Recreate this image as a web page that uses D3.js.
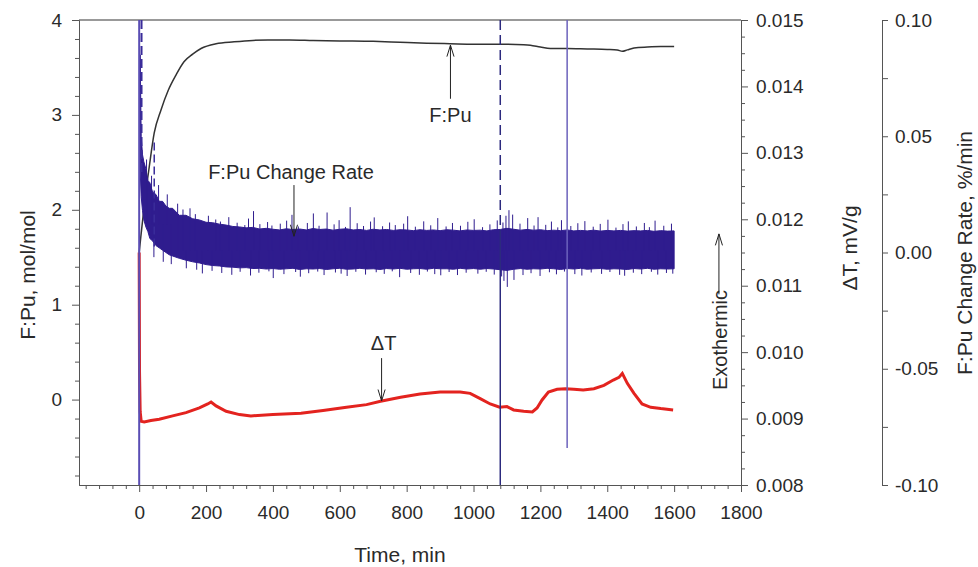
<!DOCTYPE html>
<html>
<head>
<meta charset="utf-8">
<script src="https://cdn.jsdelivr.net/npm/d3@7"></script>
<style>
  html, body { margin: 0; padding: 0; background: #fff; }
  svg { display: block; }
  text { font-family: "Liberation Sans", Arial, sans-serif; fill: #2a2a2a; }
  .axis path, .axis line { stroke: #555; }
</style>
</head>
<body>
<svg id="chart" width="978" height="567"></svg>
<script>
    "use strict";

    // F:Pu ratio, mol/mol (left axis)
    var fpuTime  = [0, 5, 10, 18, 30, 45, 65, 87, 110, 134, 160, 185, 230, 284, 340, 385, 450, 520, 600, 700, 780, 860, 930, 1000, 1080, 1150, 1170, 1200, 1230, 1280, 1340, 1400, 1430, 1445, 1460, 1480, 1520, 1560, 1600];
    var fpuValue = [1.55, 1.72, 1.88, 2.13, 2.45, 2.81, 3.05, 3.26, 3.42, 3.56, 3.64, 3.70, 3.75, 3.77, 3.785, 3.79, 3.79, 3.785, 3.78, 3.775, 3.765, 3.755, 3.75, 3.745, 3.745, 3.74, 3.735, 3.715, 3.70, 3.70, 3.695, 3.69, 3.685, 3.67, 3.685, 3.705, 3.715, 3.72, 3.72];

    // delta T, mV/g (first right axis)
    var dtTime  = [0, 1, 3, 6, 15, 35, 60, 100, 140, 180, 205, 215, 230, 260, 300, 334, 400, 484, 550, 620, 680, 722, 782, 840, 900, 960, 990, 1020, 1050, 1078, 1100, 1120, 1150, 1176, 1190, 1205, 1224, 1250, 1275, 1300, 1328, 1360, 1390, 1418, 1435, 1445, 1460, 1480, 1504, 1530, 1560, 1597];
    var dtValue = [0.0115, 0.0097, 0.0091, 0.00896, 0.00895, 0.00897, 0.00899, 0.00904, 0.00909, 0.00916, 0.00922, 0.00925, 0.00919, 0.00911, 0.00906, 0.00904, 0.00906, 0.00908, 0.00912, 0.00917, 0.00921, 0.00926, 0.00932, 0.00937, 0.00940, 0.00940, 0.00938, 0.00930, 0.00922, 0.00917, 0.00918, 0.00913, 0.00911, 0.00910, 0.00916, 0.00928, 0.00940, 0.00944, 0.00945, 0.00944, 0.00943, 0.00945, 0.00950, 0.00958, 0.00962, 0.00968, 0.00953, 0.00938, 0.00922, 0.00917, 0.00915, 0.00913];

    // F:Pu change rate, %/min (second right axis): noise band read as upper / lower edge
    var rateTime = [3, 6, 10, 14, 20, 26, 32, 40, 50, 60, 70, 80, 90, 100, 120, 140, 160, 180, 200, 220, 240, 260, 280, 300, 320, 340, 360, 380, 400, 420, 440, 460, 480, 500, 520, 540, 560, 580, 600, 620, 640, 660, 680, 700, 720, 740, 760, 780, 800, 820, 840, 860, 880, 900, 920, 940, 960, 980, 1000, 1020, 1040, 1060, 1080, 1100, 1120, 1140, 1160, 1180, 1200, 1220, 1240, 1260, 1280, 1300, 1320, 1340, 1360, 1380, 1400, 1420, 1440, 1460, 1480, 1500, 1520, 1540, 1560, 1580, 1600];
    var rateHigh = [0.085, 0.050, 0.042, 0.039, 0.036, 0.031, 0.030, 0.026, 0.025, 0.022, 0.022, 0.020, 0.019, 0.019, 0.016, 0.016, 0.0145, 0.014, 0.013, 0.0128, 0.0122, 0.0118, 0.0112, 0.0110, 0.0106, 0.0108, 0.0101, 0.0104, 0.0100, 0.0097, 0.0102, 0.0099, 0.0101, 0.0097, 0.0103, 0.0099, 0.0101, 0.0096, 0.0100, 0.0102, 0.0097, 0.0099, 0.0095, 0.0100, 0.0097, 0.0099, 0.0095, 0.0098, 0.0097, 0.0094, 0.0098, 0.0095, 0.0097, 0.0094, 0.0098, 0.0096, 0.0093, 0.0097, 0.0095, 0.0096, 0.0093, 0.0098, 0.0099, 0.0104, 0.0100, 0.0096, 0.0099, 0.0096, 0.0098, 0.0094, 0.0096, 0.0094, 0.0097, 0.0093, 0.0095, 0.0093, 0.0096, 0.0092, 0.0095, 0.0093, 0.0095, 0.0092, 0.0094, 0.0093, 0.0095, 0.0091, 0.0094, 0.0092, 0.0093];
    var rateLow  = [0.035, 0.024, 0.018, 0.014, 0.011, 0.009, 0.006, 0.005, 0.003, 0.002, 0.001, 0.000, -0.001, -0.0015, -0.0025, -0.0033, -0.004, -0.0045, -0.0052, -0.0056, -0.0058, -0.0062, -0.0063, -0.0066, -0.0065, -0.0069, -0.0068, -0.0071, -0.0069, -0.0072, -0.0070, -0.0068, -0.0073, -0.0070, -0.0071, -0.0069, -0.0073, -0.0070, -0.0068, -0.0072, -0.0071, -0.0068, -0.0071, -0.0070, -0.0073, -0.0069, -0.0071, -0.0068, -0.0072, -0.0070, -0.0069, -0.0072, -0.0068, -0.0070, -0.0070, -0.0072, -0.0068, -0.0071, -0.0069, -0.0072, -0.0069, -0.0071, -0.0074, -0.0077, -0.0072, -0.0069, -0.0072, -0.0070, -0.0071, -0.0068, -0.0070, -0.0073, -0.0069, -0.0071, -0.0068, -0.0072, -0.0070, -0.0069, -0.0072, -0.0070, -0.0071, -0.0073, -0.0069, -0.0071, -0.0068, -0.0072, -0.0070, -0.0071, -0.0070];

    // spikes sticking out of the band, upwards and downwards
    var spikeUpTime  = [22, 37, 58, 84, 115, 131, 152, 168, 207, 229, 243, 268, 293, 316, 327, 342, 361, 384, 397, 422, 441, 457, 476, 503, 521, 538, 562, 583, 598, 617, 631, 652, 671, 692, 703, 728, 749, 766, 791, 803, 826, 851, 872, 893, 918, 937, 961, 983, 1002, 1027, 1049, 1071, 1088, 1097, 1106, 1117, 1139, 1162, 1181, 1193, 1216, 1233, 1252, 1263, 1291, 1312, 1333, 1358, 1379, 1402, 1426, 1447, 1463, 1487, 1511, 1526, 1543, 1569, 1592];
    var spikeUpValue = [0.040, 0.033, 0.029, 0.025, 0.021, 0.0185, 0.019, 0.0165, 0.0158, 0.0142, 0.0133, 0.0152, 0.0128, 0.0118, 0.0146, 0.0178, 0.0122, 0.0131, 0.0116, 0.0124, 0.0137, 0.0162, 0.0112, 0.0127, 0.0168, 0.0115, 0.0172, 0.0121, 0.0139, 0.0110, 0.0195, 0.0126, 0.0114, 0.0133, 0.0151, 0.0113, 0.0129, 0.0118, 0.0124, 0.0156, 0.0111, 0.0134, 0.0117, 0.0148, 0.0112, 0.0127, 0.0115, 0.0132, 0.0143, 0.0109, 0.0121, 0.0138, 0.0129, 0.0158, 0.0182, 0.0163, 0.0124, 0.0148, 0.0116, 0.0152, 0.0119, 0.0133, 0.0108, 0.0139, 0.0114, 0.0126, 0.0135, 0.0111, 0.0123, 0.0141, 0.0107, 0.0122, 0.0134, 0.0112, 0.0127, 0.0109, 0.0137, 0.0115, 0.0124];
    var spikeDownTime  = [44, 72, 96, 141, 172, 189, 218, 247, 277, 302, 333, 358, 388, 401, 433, 468, 482, 507, 534, 553, 587, 604, 622, 648, 677, 709, 733, 757, 779, 812, 838, 862, 884, 902, 927, 952, 978, 1013, 1038, 1062, 1084, 1091, 1101, 1121, 1148, 1172, 1199, 1227, 1248, 1272, 1303, 1324, 1352, 1383, 1408, 1437, 1452, 1478, 1503, 1532, 1551, 1577, 1596];
    var spikeDownValue = [-0.002, -0.004, -0.005, -0.0068, -0.0074, -0.009, -0.0079, -0.0088, -0.0096, -0.0083, -0.0099, -0.0087, -0.0081, -0.011, -0.0093, -0.0084, -0.0104, -0.0089, -0.0082, -0.0097, -0.0086, -0.0091, -0.0101, -0.0083, -0.0095, -0.0085, -0.0092, -0.0081, -0.0106, -0.0088, -0.0096, -0.0082, -0.0093, -0.0098, -0.0084, -0.0097, -0.0087, -0.0091, -0.0083, -0.0095, -0.0103, -0.0122, -0.0148, -0.0118, -0.0097, -0.0089, -0.0101, -0.0085, -0.0094, -0.0082, -0.0093, -0.0099, -0.0086, -0.0092, -0.0084, -0.0096, -0.0100, -0.0087, -0.0093, -0.0083, -0.0095, -0.0088, -0.0091];

    // vertical event markers, min
    var markerTime = [0, 1080, 1280];

    // axis ticks
    var timeTicks = [0, 200, 400, 600, 800, 1000, 1200, 1400, 1600, 1800];
    var fpuTicks = [0, 1, 2, 3, 4];
    var dtTicks = [0.008, 0.009, 0.010, 0.011, 0.012, 0.013, 0.014, 0.015];
    var rateTicks = [-0.10, -0.05, 0.00, 0.05, 0.10];

    var svg = d3.select("#chart");

    var x = d3.scaleLinear().domain([-180, 1800]).range([79, 741]);
    var yL = d3.scaleLinear().domain([-0.9, 4]).range([485, 20]);
    var yT = d3.scaleLinear().domain([0.008, 0.015]).range([485, 20]);
    var yR = d3.scaleLinear().domain([-0.1, 0.1]).range([485, 20]);

    var near = function (a, list) {
        return list.some(function (b) { return Math.abs(a - b) < 1e-9; });
    };

    // ---- axes ----
    // top frame line
    svg.append("line")
        .attr("x1", 79).attr("x2", 741).attr("y1", 20).attr("y2", 20)
        .attr("stroke", "#777").attr("stroke-width", 1.5);

    var gx = svg.append("g").attr("class", "axis").attr("transform", "translate(0,485)");
    gx.call(d3.axisBottom(x).tickValues(d3.range(-160, 1800, 40).filter(function (d) { return !near(d, timeTicks); }))
        .tickSize(4).tickSizeOuter(0).tickFormat(""));
    gx.append("g").call(d3.axisBottom(x).tickValues(timeTicks).tickSize(7).tickSizeOuter(0).tickPadding(14)
        .tickFormat(d3.format("d")));

    var gl = svg.append("g").attr("class", "axis").attr("transform", "translate(79,0)");
    gl.call(d3.axisLeft(yL).tickValues(d3.range(-0.8, 4.0, 0.2).filter(function (d) { return !near(d, fpuTicks); }))
        .tickSize(4).tickSizeOuter(0).tickFormat(""));
    gl.append("g").call(d3.axisLeft(yL).tickValues(fpuTicks).tickSize(7).tickSizeOuter(0).tickPadding(10)
        .tickFormat(d3.format("d")));

    var gt = svg.append("g").attr("class", "axis").attr("transform", "translate(741,0)");
    gt.call(d3.axisRight(yT).tickValues(d3.range(0.008, 0.01501, 0.00025).filter(function (d) { return !near(d, dtTicks); }))
        .tickSize(4).tickSizeOuter(0).tickFormat(""));
    gt.append("g").call(d3.axisRight(yT).tickValues(dtTicks).tickSize(7).tickSizeOuter(0).tickPadding(8)
        .tickFormat(d3.format(".3f")));

    var gr = svg.append("g").attr("class", "axis").attr("transform", "translate(882,0)");
    gr.call(d3.axisRight(yR).tickValues(d3.range(-0.1, 0.1001, 0.025)).tickSize(6).tickSizeOuter(0)
        .tickPadding(7).tickFormat(function (d) { return near(d, rateTicks) ? d.toFixed(2) : ""; }));

    svg.selectAll(".axis text").style("font-size", "19px").attr("fill", "#2a2a2a");

    // axis titles
    svg.append("text").attr("transform", "translate(35,275) rotate(-90)")
        .attr("text-anchor", "middle").style("font-size", "21px").text("F:Pu, mol/mol");
    svg.append("text").attr("transform", "translate(857,248) rotate(-90)")
        .attr("text-anchor", "middle").style("font-size", "21px").text("\u0394T, mV/g");
    svg.append("text").attr("transform", "translate(972,253) rotate(-90)")
        .attr("text-anchor", "middle").style("font-size", "21px").text("F:Pu Change Rate, %/min");
    svg.append("text").attr("x", 400).attr("y", 562)
        .attr("text-anchor", "middle").style("font-size", "21px").text("Time, min");

    // ---- series ----
    var plot = svg.append("g");
    var blue = "#2f1c8e";

    plot.append("path")
        .attr("d", d3.line().x(function (d) { return x(dtTime[d]); }).y(function (d) { return yT(dtValue[d]); })(d3.range(dtTime.length)))
        .attr("fill", "none").attr("stroke", "#e3231f").attr("stroke-width", 3);

    plot.append("path")
        .attr("d", d3.line().x(function (d) { return x(fpuTime[d]); }).y(function (d) { return yL(fpuValue[d]); })
            .curve(d3.curveMonotoneX)(d3.range(fpuTime.length)))
        .attr("fill", "none").attr("stroke", "#333").attr("stroke-width", 1.5);

    var band = d3.area()
        .x(function (d) { return x(rateTime[d]); })
        .y0(function (d) { return yR(rateLow[d]); })
        .y1(function (d) { return yR(rateHigh[d]); });
    plot.append("path").attr("d", band(d3.range(rateTime.length)))
        .attr("fill", blue).attr("stroke", blue).attr("stroke-width", 1);

    var drawSpikes = function (times, values, cls) {
        plot.selectAll("line." + cls).data(d3.range(times.length)).enter().append("line")
            .attr("class", cls)
            .attr("x1", function (d) { return x(times[d]); })
            .attr("x2", function (d) { return x(times[d]); })
            .attr("y1", function (d) { return yR(times[d] < 100 ? 0.012 : 0.001); })
            .attr("y2", function (d) { return yR(values[d]); })
            .attr("stroke", blue).attr("stroke-width", 1);
    };
    drawSpikes(spikeUpTime, spikeUpValue, "spike-up");
    drawSpikes(spikeDownTime, spikeDownValue, "spike-down");

    // ---- event markers ----
    // t = 0: solid full height, plus dashed start trace of the rate signal
    plot.append("line")
        .attr("x1", x(markerTime[0])).attr("x2", x(markerTime[0])).attr("y1", yL(4)).attr("y2", yL(-0.9))
        .attr("stroke", "#5a4db4").attr("stroke-width", 2);
    plot.append("line")
        .attr("x1", x(markerTime[0] + 7)).attr("x2", x(markerTime[0] + 7)).attr("y1", yL(4)).attr("y2", yL(2.38))
        .attr("stroke", "#3a2c9a").attr("stroke-width", 2).attr("stroke-dasharray", "9,4");
    plot.append("line")
        .attr("x1", x(markerTime[0] + 45)).attr("x2", x(markerTime[0] + 45)).attr("y1", yL(2.71)).attr("y2", yL(1.57))
        .attr("stroke", "#3a2c9a").attr("stroke-width", 1.5).attr("stroke-dasharray", "8,4");
    // t = 1080: dashed above the band, solid below
    plot.append("line")
        .attr("x1", x(markerTime[1])).attr("x2", x(markerTime[1])).attr("y1", yL(4)).attr("y2", yL(1.78))
        .attr("stroke", "#2c2a7e").attr("stroke-width", 1.5).attr("stroke-dasharray", "10,5");
    plot.append("line")
        .attr("x1", x(markerTime[1])).attr("x2", x(markerTime[1])).attr("y1", yL(1.78)).attr("y2", yL(-0.9))
        .attr("stroke", "#2c2a7e").attr("stroke-width", 1.5);
    // t = 1280: solid, stops short of the axis
    plot.append("line")
        .attr("x1", x(markerTime[2])).attr("x2", x(markerTime[2])).attr("y1", yL(4)).attr("y2", yL(-0.51))
        .attr("stroke", "#6c62bc").attr("stroke-width", 1.5);

    // ---- annotations ----
    var arrow = function (x0, y0, x1, y1) {
        var a = Math.atan2(y1 - y0, x1 - x0), L = 12, w = 0.3;
        var p = d3.path();
        p.moveTo(x0, y0); p.lineTo(x1, y1);
        p.moveTo(x1 - L * Math.cos(a - w), y1 - L * Math.sin(a - w));
        p.lineTo(x1, y1);
        p.lineTo(x1 - L * Math.cos(a + w), y1 - L * Math.sin(a + w));
        svg.append("path").attr("d", p.toString()).attr("fill", "none").attr("stroke", "#222").attr("stroke-width", 1);
    };

    svg.append("text").attr("x", x(931)).attr("y", yL(3.0) + 7).attr("text-anchor", "middle")
        .style("font-size", "20px").text("F:Pu");
    arrow(x(931), yL(3.17), x(931), yL(3.735));

    svg.append("text").attr("x", x(454)).attr("y", yR(0.0346) + 7).attr("text-anchor", "middle")
        .style("font-size", "20px").text("F:Pu Change Rate");
    arrow(x(463), yR(0.029), x(463), yR(0.007));

    svg.append("text").attr("x", x(731)).attr("y", yT(0.010138) + 7).attr("text-anchor", "middle")
        .style("font-size", "20px").text("\u0394T");
    arrow(x(725), yT(0.00991), x(725), yT(0.009265));

    svg.append("text").attr("transform", "translate(" + (x(1734) + 8) + "," + yT(0.00943) + ") rotate(-90)")
        .attr("text-anchor", "start").style("font-size", "20px").text("Exothermic");
    arrow(x(1734), yT(0.01087), x(1734), yT(0.01178));
</script>
</body>
</html>
